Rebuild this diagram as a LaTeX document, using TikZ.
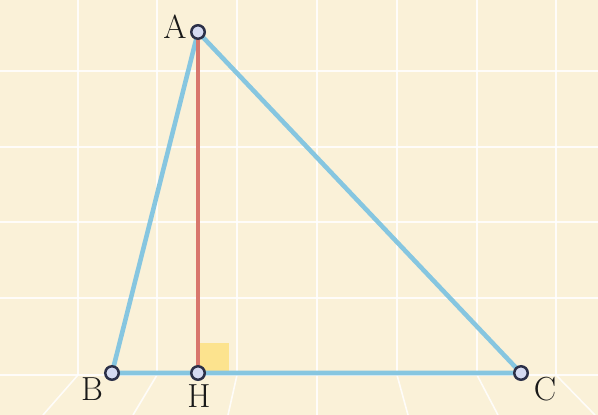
\documentclass[tikz,border=0pt]{standalone}
\usepackage{tikz}

\definecolor{paper}{RGB}{250,241,216}
\definecolor{sideblue}{RGB}{134,198,224}
\definecolor{altred}{RGB}{216,118,108}
\definecolor{angleyellow}{RGB}{252,227,142}
\definecolor{ptfill}{RGB}{213,219,242}
\definecolor{ptline}{RGB}{43,48,72}

\begin{document}
\begin{tikzpicture}[
    x=0.02cm, y=-0.02cm,
    gridline/.style={draw=white, draw opacity=0.85, line width=0.9pt},
    side/.style={draw=sideblue, line width=2.6pt, line cap=round},
    altitude/.style={draw=altred, line width=2.6pt},
    rightangle/.style={fill=angleyellow},
    pt/.style={circle, draw=ptline, fill=ptfill, line width=1.4pt, minimum size=0.27cm, inner sep=0pt},
    ptlabel/.style={font=\fontsize{19}{21}\selectfont, text=black!90}
]

% Background and grid
\fill[paper] (0,0) rectangle (598,415);
\useasboundingbox (0,0) rectangle (598,415);
\foreach \gx in {78,157,237,317,397,477,556}
    \draw[gridline] (\gx,0) -- (\gx,375);
\foreach \gy in {71,147,222,298,375}
    \draw[gridline] (0,\gy) -- (598,\gy);

% Floor lines
\foreach \gx/\fx in {78/43,157/133,237/228,317/317,397/408,477/498,556/595}
    \draw[gridline] (\gx,375) -- (\fx,415);

% Vertices
\coordinate (A) at (198,32);
\coordinate (B) at (112,373);
\coordinate (C) at (521,373);
\coordinate (H) at (198,373);

% Right angle mark
\fill[rightangle] (200,343) rectangle (229,371);

% Sides and altitude
\draw[side] (A) -- (B) -- (C) -- cycle;
\draw[altitude] (A) -- (H);

% Points
\node[pt] (ptA) at (A) {};
\node[pt] (ptB) at (B) {};
\node[pt] (ptC) at (C) {};
\node[pt] (ptH) at (H) {};

% Labels
\node[ptlabel] (labA) at (175,27) {A};
\node[ptlabel] (labB) at (92,389) {B};
\node[ptlabel] (labH) at (199,396) {H};
\node[ptlabel] (labC) at (545,389) {C};

\end{tikzpicture}
\end{document}
